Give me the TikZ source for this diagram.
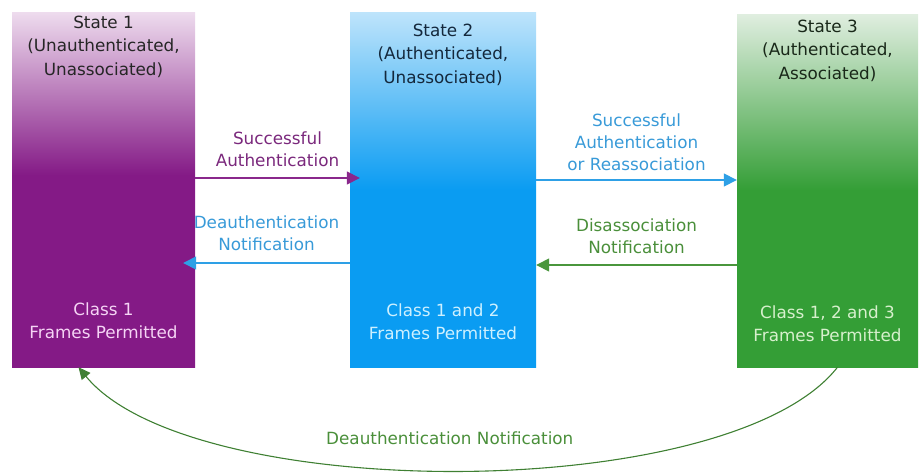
\documentclass[tikz,border=0pt]{standalone}
\usepackage{fontspec}
\setmainfont{DejaVu Sans}
\usetikzlibrary{positioning}
\usetikzlibrary{arrows.meta}

\definecolor{stpurple}{RGB}{132,26,134}
\definecolor{stpurplelt}{RGB}{238,220,238}
\definecolor{stblue}{RGB}{10,156,242}
\definecolor{stbluelt}{RGB}{190,228,251}
\definecolor{stgreen}{RGB}{52,158,54}
\definecolor{stgreenlt}{RGB}{224,238,224}
\definecolor{arrpurple}{RGB}{138,40,140}
\definecolor{arrblue}{RGB}{46,160,230}
\definecolor{arrgreen}{RGB}{74,150,60}
\definecolor{lblpurple}{RGB}{122,40,124}
\definecolor{lblblue}{RGB}{56,154,216}
\definecolor{lblgreen}{RGB}{74,143,58}

\pgfdeclareverticalshading{purpleshade}{100bp}{color(0bp)=(stpurple); color(52bp)=(stpurple); color(75bp)=(stpurplelt); color(100bp)=(stpurplelt)}
\pgfdeclareverticalshading{blueshade}{100bp}{color(0bp)=(stblue); color(50bp)=(stblue); color(75bp)=(stbluelt); color(100bp)=(stbluelt)}
\pgfdeclareverticalshading{greenshade}{100bp}{color(0bp)=(stgreen); color(50bp)=(stgreen); color(75bp)=(stgreenlt); color(100bp)=(stgreenlt)}

\tikzset{
  state/.style={rectangle,minimum width=183pt,minimum height=355pt,inner sep=0pt},
  boxtext/.style={align=center,inner sep=0pt,font=\fontsize{16.8}{23.5}\selectfont},
  flow/.style={line width=1.5pt,-{Triangle[length=13pt,width=13pt]}},
  flowlabel/.style={align=center,inner sep=0pt,font=\fontsize{16.8}{22}\selectfont}
}

\begin{document}
\begin{tikzpicture}[x=1pt,y=-1pt]
 \useasboundingbox (0,0) rectangle (920,474);
 % the three states
 \node[state,shading=purpleshade] (s1) at (103.5,189.5) {};
 \node[state,shading=blueshade,minimum width=186pt] (s2) at (443,189.5) {};
 \node[state,shading=greenshade,minimum width=181pt,minimum height=353pt] (s3) at (827.5,190.5) {};

 \node[boxtext,text=black!85,below=4pt of s1.north] (t1) {State 1\\(Unauthenticated,\\Unassociated)};
 \node[boxtext,text={rgb,255:red,20;green,40;blue,60},below=12pt of s2.north] (t2) {State 2\\(Authenticated,\\Unassociated)};
 \node[boxtext,text={rgb,255:red,25;green,40;blue,25},below=6pt of s3.north] (t3) {State 3\\(Authenticated,\\Associated)};

 \node[boxtext,text={rgb,255:red,245;green,212;blue,245},above=28pt of s1.south] (b1) {Class 1\\Frames Permitted};
 \node[boxtext,text={rgb,255:red,205;green,240;blue,255},above=27pt of s2.south] (b2) {Class 1 and 2\\Frames Permitted};
 \node[boxtext,text={rgb,255:red,215;green,240;blue,205},above=25pt of s3.south] (b3) {Class 1, 2 and 3\\Frames Permitted};

 % transitions
 \draw[flow,arrpurple] ([yshift=11.5pt]s1.east) -- node[flowlabel,text=lblpurple,above=11pt]{Successful\\Authentication} ([yshift=11.5pt,xshift=10pt]s2.west);
 \draw[flow,arrblue] ([yshift=-73.5pt]s2.west) -- node[flowlabel,text=lblblue,above=12pt]{Deauthentication\\Notification} ([yshift=-73.5pt,xshift=-12pt]s1.east);
 \draw[flow,arrblue] ([yshift=9.5pt]s2.east) -- node[flowlabel,text=lblblue,above=9pt]{Successful\\Authentication\\or Reassociation} ([yshift=10.5pt]s3.west);
 \draw[flow,arrgreen] ([yshift=-74.5pt]s3.west) -- node[flowlabel,text=lblgreen,above=11pt]{Disassociation\\Notification} ([yshift=-75.5pt]s2.east);

 \draw[line width=1.1pt,arrgreen!85!black,-{Triangle[length=12pt,width=11pt]}] ([xshift=10pt]s3.south) .. controls +(-108,138) and +(112,137) .. ([xshift=-25pt]s1.south)
   node[flowlabel,text=lblgreen,pos=0.51,above=25pt] (back) {Deauthentication Notification};
\end{tikzpicture}
\end{document}
